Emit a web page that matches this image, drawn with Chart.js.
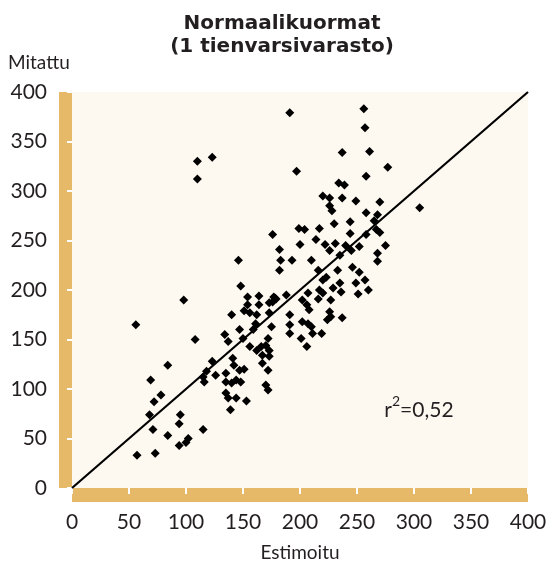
<!DOCTYPE html>
<html>
<head>
<meta charset="utf-8">
<script src="https://cdn.jsdelivr.net/npm/chart.js@4/dist/chart.umd.min.js"></script>
<style>
  html, body { margin: 0; padding: 0; background: #ffffff; }
  #wrap { width: 550px; height: 564px; }
</style>
</head>
<body>
<div id="wrap"><canvas id="chart" width="550" height="564"></canvas></div>
<script>
// Values
const estimated = [
  191, 256, 257, 110, 123, 110, 237, 261, 197, 277, 258, 234, 239, 220, 226, 237, 249, 270, 226, 228,
  258, 268, 305, 230, 244, 265, 176, 199, 204, 217, 258, 267, 270, 244, 182, 200, 214, 222, 231, 240,
  252, 275, 146, 183, 193, 210, 226, 235, 245, 268, 268, 182, 216, 223, 233, 246, 252, 257, 220, 235,
  229, 217, 220, 249, 260, 251, 236, 207, 202, 206, 216, 227, 178, 176, 188, 191, 208, 226, 237, 148,
  98, 56, 154, 164, 177, 179, 154, 164, 173, 151, 156, 162, 140, 173, 191, 191, 108, 134, 137, 147,
  150, 159, 156, 162, 166, 170, 173, 167, 173, 172, 167, 172, 141, 142, 123, 115, 118, 126, 116, 135,
  147, 151, 135, 140, 144, 148, 135, 137, 144, 153, 139, 170, 172, 84, 69, 78, 72, 68, 71, 57,
  73, 84, 95, 94, 94, 100, 102, 115, 175, 202, 207, 210, 211, 201, 206, 219, 224, 227, 161
];
const measured = [
  379, 383, 364, 330, 334, 312, 339, 340, 320, 324, 315, 308, 306, 295, 293, 293, 290, 289, 285, 280,
  278, 276, 283, 267, 269, 270, 256, 262, 261, 262, 256, 261, 258, 257, 241, 246, 251, 246, 247, 245,
  244, 245, 230, 230, 230, 230, 240, 235, 240, 237, 229, 220, 220, 213, 220, 223, 218, 210, 210, 207,
  202, 200, 197, 207, 200, 196, 198, 197, 190, 185, 191, 190, 192, 188, 195, 175, 180, 178, 172, 204,
  190, 165, 193, 194, 193, 191, 185, 185, 187, 179, 177, 175, 175, 177, 165, 156, 150, 155, 148, 160,
  151, 160, 143, 139, 143, 144, 139, 134, 133, 151, 126, 119, 131, 124, 128, 112, 118, 114, 107, 116,
  119, 120, 107, 106, 109, 107, 96, 91, 91, 88, 79, 104, 99, 124, 109, 94, 87, 74, 59, 33,
  35, 53, 74, 65, 43, 46, 50, 59, 163, 168, 166, 163, 156, 151, 143, 156, 170, 173, 166
];
const fitLine = [0, 400];
const axisTicks = [0, 50, 100, 150, 200, 250, 300, 350, 400];
const chartTitle = ['Normaalikuormat', '(1 tienvarsivarasto)'];
const yTitle = 'Mitattu';
const xTitle = 'Estimoitu';
const rSquared = '0,52';

const plotBg = '#fdf8f0';
const barColor = '#e5b967';
const textColor = '#231f20';
const bodyFont = 'Lato';

const points = estimated.map((x, i) => ({ x: x, y: measured[i] }));

// cream plot area, tan axis bars, title and extra texts
const decor = {
  id: 'decor',
  beforeDraw(chart) {
    const { ctx, chartArea: a } = chart;
    ctx.save();
    ctx.fillStyle = plotBg;
    ctx.fillRect(a.left, a.top, a.right - a.left, a.bottom - a.top);
    ctx.fillStyle = barColor;
    ctx.fillRect(a.left - 13, a.top, 13, a.bottom - a.top);
    ctx.fillRect(a.left, a.bottom, a.right - a.left, 14);
    ctx.restore();
  },
  afterDraw(chart) {
    const { ctx, scales } = chart;
    ctx.save();
    ctx.fillStyle = textColor;
    ctx.textBaseline = 'middle';

    ctx.textAlign = 'center';
    ctx.font = 'bold 20px "DejaVu Sans"';
    ctx.fillText(chartTitle[0], 282, 24);
    ctx.fillText(chartTitle[1], 282, 47);

    ctx.textAlign = 'left';
    ctx.font = '19px ' + bodyFont;
    ctx.fillText(yTitle, 8, 63);

    // r^2 label
    let x = scales.x.getPixelForValue(274);
    const y = scales.y.getPixelForValue(79);
    ctx.font = '21px ' + bodyFont;
    ctx.fillText('r', x, y);
    x += ctx.measureText('r').width;
    ctx.font = '14px ' + bodyFont;
    ctx.fillText('2', x, y - 8);
    x += ctx.measureText('2').width;
    ctx.font = '21px ' + bodyFont;
    ctx.fillText('=' + rSquared, x, y);
    ctx.restore();
  }
};

new Chart(document.getElementById('chart'), {
  type: 'scatter',
  data: {
    datasets: [
      {
        type: 'line',
        data: fitLine.map(v => ({ x: v, y: v })),
        borderColor: '#000000',
        borderWidth: 2.2,
        pointRadius: 0,
        fill: false,
        clip: false
      },
      {
        data: points,
        pointStyle: 'rectRot',
        pointRadius: 4.5,
        pointBorderWidth: 0,
        backgroundColor: '#000000',
        borderColor: '#000000'
      }
    ]
  },
  options: {
    responsive: false,
    animation: false,
    layout: { padding: { left: 0, right: 22, top: 92, bottom: 0 } },
    plugins: {
      legend: { display: false },
      tooltip: { enabled: false },
      title: { display: false }
    },
    scales: {
      x: {
        type: 'linear',
        min: 0,
        max: 400,
        afterBuildTicks: s => { s.ticks = axisTicks.map(v => ({ value: v })); },
        afterFit: s => { s.height = 76; s.paddingLeft = 0; s.paddingRight = 0; },
        ticks: { color: textColor, font: { family: bodyFont, size: 21 }, padding: 16 },
        grid: { drawOnChartArea: false, color: '#ffffff', lineWidth: 2, tickLength: 6 },
        border: { display: false },
        title: {
          display: true,
          text: xTitle,
          color: textColor,
          font: { family: bodyFont, size: 19 },
          padding: { top: 0, bottom: 0 }
        }
      },
      y: {
        type: 'linear',
        min: 0,
        max: 400,
        afterBuildTicks: s => { s.ticks = axisTicks.map(v => ({ value: v })); },
        afterFit: s => { s.width = 72; s.paddingTop = 0; s.paddingBottom = 0; },
        ticks: { color: textColor, font: { family: bodyFont, size: 21 }, padding: 20 },
        grid: { drawOnChartArea: false, color: '#ffffff', lineWidth: 2, tickLength: 5 },
        border: { display: false }
      }
    }
  },
  plugins: [decor]
});
</script>
</body>
</html>
